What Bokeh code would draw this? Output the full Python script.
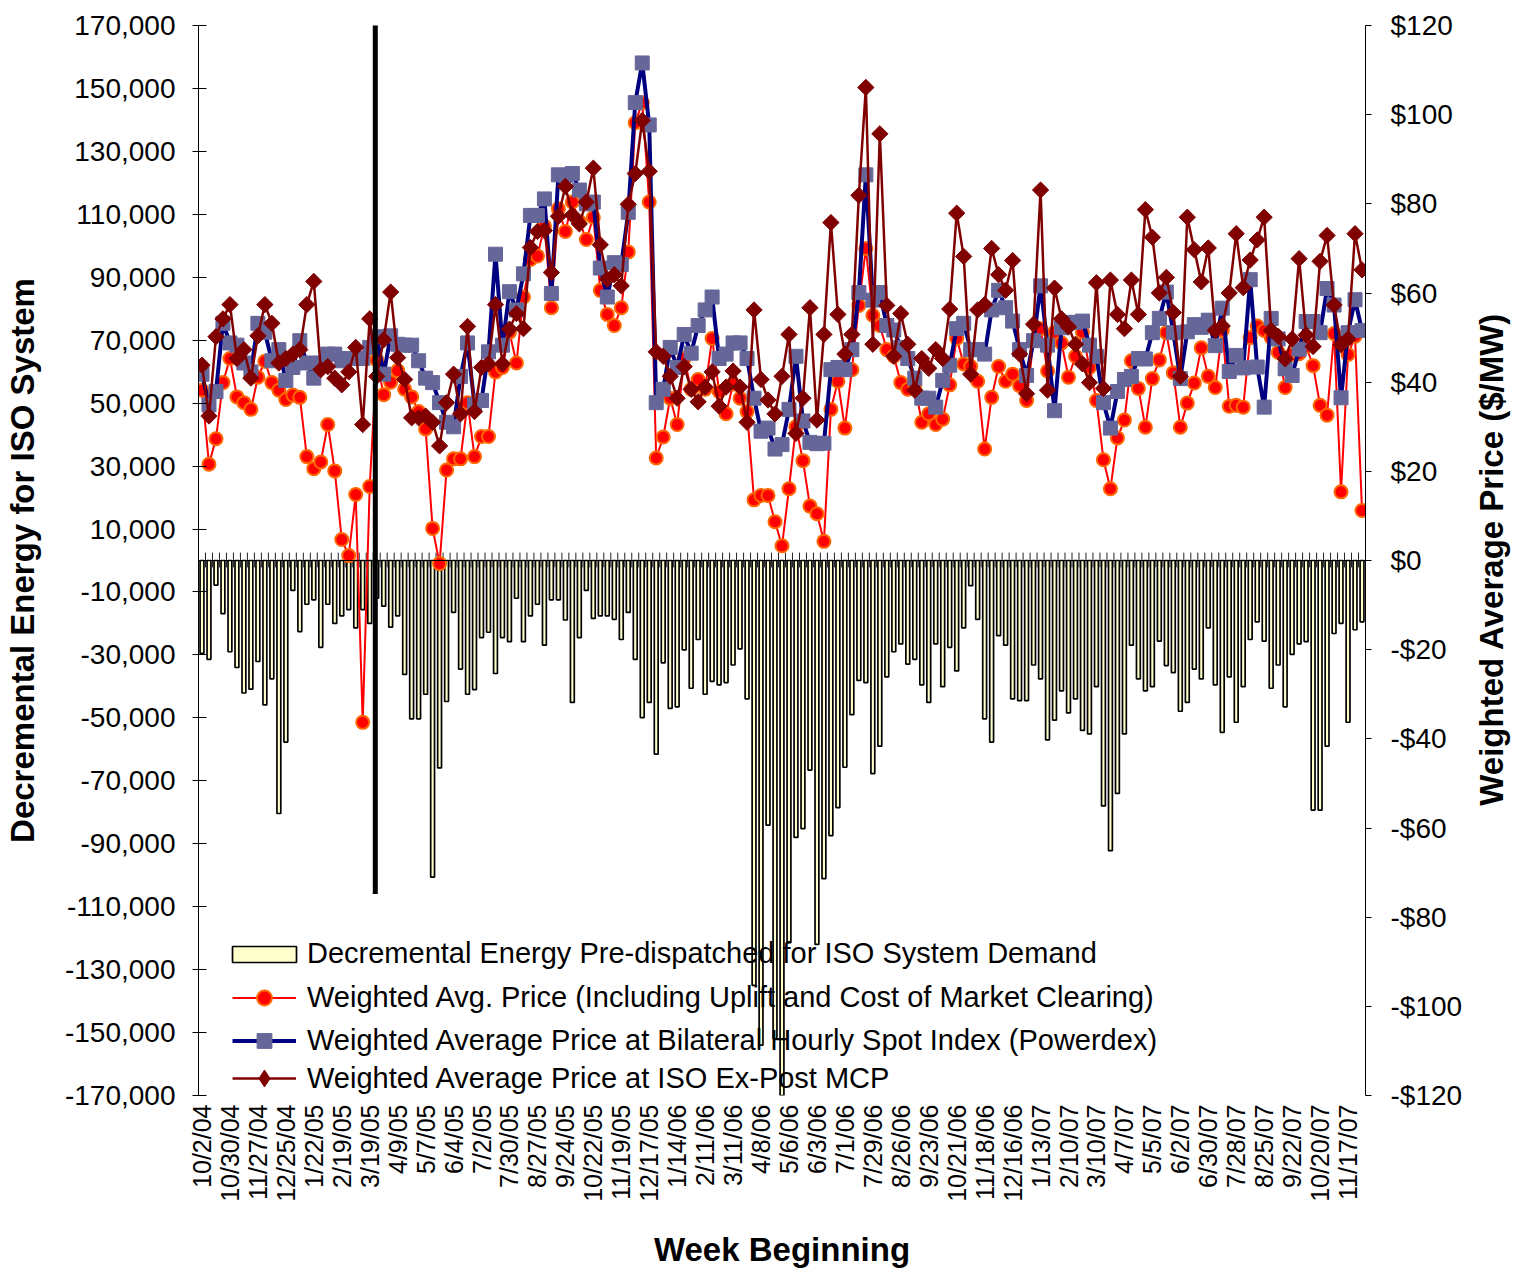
import math
from bokeh.plotting import figure
from bokeh.models import (Range1d, LinearAxis, FixedTicker, NumeralTickFormatter,
                          ColumnDataSource, Legend, LegendItem, Span, Arrow,
                          CDSView, IndexFilter)
from bokeh.embed import file_html
from bokeh.resources import INLINE

FONT = "Liberation Sans"

# ---------------- data ----------------
week_labels = ["10/2/04", "10/30/04", "11/27/04", "12/25/04", "1/22/05", "2/19/05",
               "3/19/05", "4/9/05", "5/7/05", "6/4/05", "7/2/05", "7/30/05", "8/27/05",
               "9/24/05", "10/22/05", "11/19/05", "12/17/05", "1/14/06", "2/11/06",
               "3/11/06", "4/8/06", "5/6/06", "6/3/06", "7/1/06", "7/29/06", "8/26/06",
               "9/23/06", "10/21/06", "11/18/06", "12/16/06", "1/13/07", "2/10/07",
               "3/10/07", "4/7/07", "5/5/07", "6/2/07", "6/30/07", "7/28/07", "8/25/07",
               "9/22/07", "10/20/07", "11/17/07"]
label_every = 4

# Decremental energy pre-dispatched (MWh, weekly)
decremental_energy = [
    -29500, -31400, -7800, -16900, -29000, -34000, -42100, -40900, -32100, -45900,
    -37600, -80400, -57700, -9500, -22600, -13900, -12500, -27600, -13900, -20000,
    -17600, -15600, -21400, -15600, -20000, -12000, -14500, -21200, -17600, -36200,
    -50300, -50300, -42500, -100600, -65900, -44800, -16500, -34500, -42500, -41000,
    -24500, -22800, -35900, -24500, -25800, -12000, -25800, -17600, -13900, -26900,
    -12500, -12500, -18900, -45100, -24500, -9500, -18400, -17600, -17600, -18700,
    -25100, -16500, -31400, -49900, -45100, -61500, -32500, -47000, -46500, -28400,
    -40600, -25100, -42500, -38400, -39500, -38800, -33200, -28100, -44000, -135000,
    -154000, -84100, -152000, -171000, -121400, -88000, -85200, -66600, -122000, -101100,
    -87400, -78500, -65700, -49000, -38100, -38800, -67700, -59000, -37000, -29000,
    -26500, -32900, -31400, -39500, -45100, -26500, -40100, -27600, -35100, -21400,
    -8000, -18700, -50300, -57700, -23900, -26900, -44000, -44500, -44500, -33200,
    -37600, -57000, -50700, -41400, -48400, -44000, -54000, -55100, -40100, -78000,
    -92200, -74000, -55100, -26900, -37600, -41400, -40100, -25600, -33400, -35600,
    -47900, -45100, -34500, -37600, -21400, -39500, -54600, -37000, -51400, -40100,
    -25100, -19500, -25600, -40600, -33200, -46500, -29800, -26500, -25800, -79300,
    -79300, -59000, -23200, -20000, -51400, -22000, -19500]

# Weighted Avg. Price (Including Uplift and Cost of Market Clearing), $/MW
weighted_avg_price = [
    38.2, 21.6, 27.3, 39.9, 45.3, 36.7, 35.4, 33.9, 41.1, 44.7,
    39.9, 38.2, 36.1, 37.1, 36.6, 23.3, 20.6, 22.1, 30.5, 20.1,
    4.7, 1.1, 14.8, -36.3, 16.6, 45.0, 37.2, 40.0, 42.6, 38.4,
    36.7, 33.4, 29.5, 7.2, -0.7, 20.3, 22.8, 22.8, 35.4, 23.3,
    27.8, 27.8, 42.3, 43.3, 51.2, 44.3, 59.1, 67.5, 68.3, 75.0,
    56.7, 78.9, 73.8, 80.4, 76.0, 72.0, 77.0, 60.6, 55.2, 52.7,
    56.7, 69.2, 98.2, 102.7, 80.4, 23.0, 27.7, 36.4, 30.5, 45.3,
    38.4, 40.6, 38.4, 49.8, 37.9, 32.9, 39.6, 36.4, 33.4, 13.6,
    14.6, 14.6, 8.7, 3.3, 16.1, 30.0, 22.4, 12.2, 10.5, 4.3,
    33.9, 40.2, 29.7, 42.8, 57.2, 70.0, 55.0, 52.7, 47.3, 45.8,
    39.9, 38.4, 39.4, 31.0, 32.9, 30.5, 31.7, 39.4, 49.8, 44.1,
    43.5, 40.2, 25.0, 36.6, 43.5, 40.2, 41.8, 39.2, 35.9, 49.3,
    52.0, 42.5, 51.2, 48.8, 41.1, 45.8, 51.2, 43.3, 35.9, 22.6,
    16.1, 27.5, 31.5, 44.8, 38.6, 29.9, 40.8, 45.0, 51.1, 42.1,
    29.9, 35.3, 39.8, 47.7, 41.3, 38.8, 51.6, 34.6, 34.8, 34.4,
    50.0, 52.6, 51.6, 50.0, 46.7, 38.8, 46.2, 46.4, 48.0, 43.7,
    34.8, 32.6, 50.9, 15.4, 46.2, 50.3, 11.2]

# Weighted Average Price at Bilateral Hourly Spot Index (Powerdex), $/MW
powerdex_price = [
    41.8, 34.9, 37.9, 53.2, 48.8, 48.3, 44.3, 42.3, 53.2, 51.2,
    44.8, 47.3, 40.4, 43.3, 49.3, 44.3, 40.9, 44.3, 46.3, 46.3,
    44.8, 45.3, 45.3, 45.3, 47.8, 50.2, 41.8, 50.4, 48.5, 48.3,
    48.3, 44.8, 40.9, 39.9, 35.4, 31.0, 30.0, 41.3, 48.8, 34.9,
    35.9, 46.8, 68.7, 48.3, 60.3, 56.2, 64.3, 77.4, 77.4, 81.1,
    59.9, 86.5, 86.4, 86.8, 83.1, 80.0, 80.4, 65.6, 59.1, 66.8,
    66.4, 78.1, 102.7, 111.6, 97.7, 35.4, 38.4, 47.8, 43.3, 50.7,
    46.5, 52.7, 56.2, 59.1, 45.3, 46.3, 48.8, 48.8, 45.3, 36.4,
    29.0, 29.7, 25.0, 26.0, 33.9, 45.8, 31.3, 26.5, 26.2, 26.3,
    42.8, 43.3, 42.8, 47.3, 60.1, 86.5, 58.4, 60.1, 52.7, 51.7,
    47.8, 45.3, 40.9, 36.4, 36.4, 34.4, 40.4, 43.8, 52.0, 53.2,
    47.3, 47.3, 46.3, 56.2, 60.6, 56.7, 53.7, 47.3, 41.5, 49.3,
    61.6, 48.3, 33.6, 52.2, 53.4, 53.4, 53.7, 48.3, 45.8, 35.4,
    29.7, 37.9, 40.6, 41.3, 45.3, 45.2, 51.1, 54.3, 60.2, 51.1,
    40.8, 51.3, 52.9, 52.3, 53.9, 48.2, 56.6, 42.4, 46.0, 43.2,
    63.0, 43.4, 34.4, 54.3, 49.7, 43.0, 41.5, 47.4, 53.6, 53.6,
    51.1, 61.0, 57.3, 36.5, 51.1, 58.5, 51.6]

# Weighted Average Price at ISO Ex-Post MCP, $/MW
iso_expost_mcp = [
    43.8, 32.4, 50.2, 54.2, 57.4, 45.3, 47.3, 40.9, 50.4, 57.4,
    53.2, 44.3, 45.3, 46.3, 47.3, 57.4, 62.6, 42.8, 43.5, 40.9,
    39.4, 42.3, 47.8, 30.5, 54.2, 41.3, 49.5, 60.2, 45.5, 40.6,
    32.0, 32.0, 32.4, 31.0, 25.7, 35.4, 41.8, 32.9, 52.5, 33.4,
    43.3, 44.1, 57.4, 44.1, 51.9, 55.4, 52.0, 70.2, 73.8, 74.0,
    64.6, 77.2, 83.9, 77.5, 75.5, 80.4, 88.0, 70.8, 63.1, 64.1,
    61.6, 79.9, 86.8, 98.7, 87.3, 46.8, 45.8, 41.3, 36.4, 43.5,
    38.4, 35.6, 38.9, 42.3, 34.6, 38.9, 42.5, 38.9, 31.0, 56.2,
    40.6, 36.0, 32.9, 41.3, 50.7, 28.5, 36.4, 56.7, 31.5, 50.7,
    75.8, 55.2, 46.3, 50.7, 81.9, 106.1, 48.5, 95.7, 57.2, 45.8,
    55.4, 48.5, 38.2, 45.3, 43.1, 47.3, 45.3, 56.4, 77.9, 68.2,
    41.8, 56.2, 57.4, 70.0, 64.1, 60.6, 67.3, 46.3, 37.4, 53.0,
    83.1, 38.2, 61.1, 54.2, 52.4, 48.5, 44.1, 39.9, 62.3, 38.6,
    62.9, 55.2, 52.0, 62.9, 55.2, 78.7, 72.5, 60.0, 63.5, 55.6,
    41.3, 77.0, 69.7, 62.5, 70.1, 51.6, 52.6, 60.0, 73.3, 61.2,
    67.4, 71.9, 77.0, 51.6, 50.3, 45.2, 49.7, 67.7, 50.6, 48.0,
    67.1, 72.9, 57.3, 48.4, 49.7, 73.3, 65.2]

energy_ticks = list(range(-170000, 170001, 20000))
price_ticks = list(range(-120, 121, 20))

# vertical divider line (between weeks) and its vertical extent
divider_week = 24.8
divider_low = -106000
divider_high = 175700

# $ level at which the right-hand (bottom-to-top) title starts
right_title_start = -55
right_title = "Weighted Average Price ($/MW)"

# ---------------- figure ----------------
n = len(decremental_energy)
weeks = list(range(n))
src = ColumnDataSource(dict(x=weeks, dec=decremental_energy, avg=weighted_avg_price,
                            pdx=powerdex_price, mcp=iso_expost_mcp))

e_min, e_max = energy_ticks[0], energy_ticks[-1]
p = figure(width=1531, height=1270,
           x_range=Range1d(-0.5, n - 0.5), y_range=Range1d(e_min, e_max),
           output_backend="svg", toolbar_location=None,
           min_border_left=195, min_border_right=166,
           min_border_top=25, min_border_bottom=174)
p.extra_y_ranges = {"price": Range1d(price_ticks[0], price_ticks[-1])}
p.outline_line_color = None
p.xgrid.visible = False
p.ygrid.visible = False

# left axis
ya = p.yaxis[0]
ya.ticker = FixedTicker(ticks=energy_ticks)
ya.formatter = NumeralTickFormatter(format="0,0")
ya.major_label_text_font = FONT
ya.major_label_text_font_size = "28px"
ya.major_label_text_color = "black"
ya.major_label_standoff = 17
ya.major_tick_out = 6
ya.major_tick_in = 8
ya.minor_tick_line_color = None
ya.axis_line_color = "black"
ya.major_tick_line_color = "black"
ya.axis_label = "Decremental Energy for ISO System"
ya.axis_label_text_font = FONT
ya.axis_label_text_font_size = "33px"
ya.axis_label_text_font_style = "bold"
ya.axis_label_text_color = "black"
ya.axis_label_standoff = 21

# bottom axis
xa = p.xaxis[0]
label_pos = list(range(0, n, label_every))
xa.ticker = FixedTicker(ticks=label_pos)
xa.major_label_overrides = {i: lab for i, lab in zip(label_pos, week_labels)}
xa.major_label_orientation = math.pi / 2
xa.major_label_text_font = FONT
xa.major_label_text_font_size = "25px"
xa.major_label_text_color = "black"
xa.major_label_standoff = 9
xa.axis_line_color = None
xa.major_tick_line_color = None
xa.minor_tick_line_color = None
xa.major_tick_out = 0
xa.major_tick_in = 0
xa.axis_label = "Week Beginning"
xa.axis_label_text_font = FONT
xa.axis_label_text_font_size = "33px"
xa.axis_label_text_font_style = "bold"
xa.axis_label_text_color = "black"
xa.axis_label_standoff = 26

# right axis (ticks and $ labels)
def money(v):
    return "$%d" % v if v >= 0 else "-$%d" % (-v)

ra = LinearAxis(y_range_name="price", ticker=FixedTicker(ticks=price_ticks))
ra.major_label_overrides = {v: money(v) for v in price_ticks}
ra.major_label_text_font = FONT
ra.major_label_text_font_size = "28px"
ra.major_label_text_color = "black"
ra.major_label_standoff = 19
ra.major_tick_out = 6
ra.major_tick_in = 0
ra.minor_tick_line_color = None
ra.axis_line_color = "black"
ra.major_tick_line_color = "black"
p.add_layout(ra, "right")

# right-hand title, reading bottom-to-top (a single rotated label on a bare axis)
ta = LinearAxis(y_range_name="price", ticker=FixedTicker(ticks=[right_title_start]))
ta.major_label_overrides = {right_title_start: right_title}
ta.major_label_orientation = math.pi / 2
ta.major_label_text_font = FONT
ta.major_label_text_font_size = "33px"
ta.major_label_text_font_style = "bold"
ta.major_label_text_color = "black"
ta.major_label_standoff = 26
ta.axis_line_color = None
ta.major_tick_line_color = None
ta.minor_tick_line_color = None
ta.major_tick_out = 0
ta.major_tick_in = 0
p.add_layout(ta, "right")

# bars
bars = p.vbar(x="x", top=0, bottom="dec", width=0.55, source=src,
              fill_color="#FFFFCC", line_color="black", line_width=1.7)

# zero axis with category tick marks
bounds = [i - 0.5 for i in range(n + 1)]
p.segment(x0=bounds, y0=[-2200] * len(bounds), x1=bounds, y1=[2500] * len(bounds),
          line_color="#222222", line_width=1)
p.add_layout(Span(location=0, dimension="width", line_color="black", line_width=1.2))

# price series
red_line = p.line("x", "avg", source=src, y_range_name="price",
                  line_color="#FF0000", line_width=2)
red_pts = p.scatter("x", "avg", source=src, y_range_name="price", marker="circle",
                    size=13, fill_color="#FF0000", line_color="#FF6600", line_width=2)
blue_line = p.line("x", "pdx", source=src, y_range_name="price",
                   line_color="#000080", line_width=4)
blue_pts = p.scatter("x", "pdx", source=src, y_range_name="price", marker="square",
                     size=14, fill_color="#666699", line_color="#666699", line_width=1)
dk_line = p.line("x", "mcp", source=src, y_range_name="price",
                 line_color="#800000", line_width=2.5)
# legend-shaped diamond (hidden under the first data marker)
dk_key = p.scatter("x", "mcp", source=src, view=CDSView(filter=IndexFilter([0])),
                   y_range_name="price", marker="diamond", size=15,
                   fill_color="#800000", line_color="#800000", line_width=1)
dk_pts = p.scatter("x", "mcp", source=src, y_range_name="price", marker="square",
                   angle=math.pi / 4, size=11.5, fill_color="#800000",
                   line_color="#800000", line_width=1)

# vertical divider
p.add_layout(Arrow(end=None, x_start=divider_week, y_start=divider_low,
                   x_end=divider_week, y_end=divider_high,
                   line_color="black", line_width=5))

# legends
def make_legend(items, loc, gw, gh, standoff, spacing=0):
    lg = Legend(items=items, location=loc, orientation="vertical",
                label_text_font=FONT, label_text_font_size="29px",
                label_text_color="black", glyph_width=gw, glyph_height=gh,
                label_standoff=standoff, spacing=spacing, padding=0, margin=0,
                border_line_color=None, background_fill_alpha=0)
    p.add_layout(lg)
    return lg

make_legend([LegendItem(label="Decremental Energy Pre-dispatched for ISO System Demand",
                        renderers=[bars])], (26, 125), 80, 20, 3)
make_legend([LegendItem(label="Weighted Avg. Price (Including Uplift and Cost of Market Clearing)",
                        renderers=[red_line, red_pts]),
             LegendItem(label="Weighted Average Price at Bilateral Hourly Spot Index (Powerdex)",
                        renderers=[blue_line, blue_pts])], (34, 36), 64, 37, 11, 6)
make_legend([LegendItem(label="Weighted Average Price at ISO Ex-Post MCP",
                        renderers=[dk_line, dk_key])], (34, -4), 64, 42, 11)

open("out.html", "w").write(file_html(p, INLINE))
